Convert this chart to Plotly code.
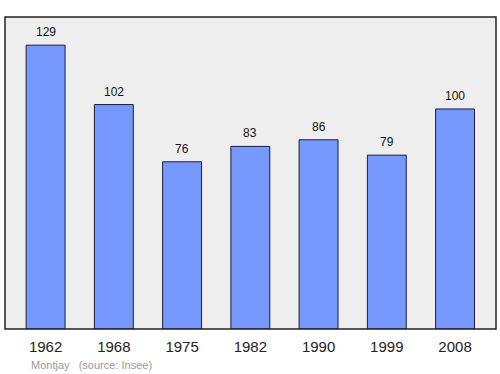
import plotly.graph_objects as go

years = ["1962", "1968", "1975", "1982", "1990", "1999", "2008"]
population = [129, 102, 76, 83, 86, 79, 100]
source_label = "Montjay    (source: Insee)"

fig = go.Figure()
fig.add_trace(go.Bar(
    x=years, y=population, width=0.57,
    marker=dict(color="#7799ff", line=dict(color="#1a1a3a", width=1)),
    hoverinfo="skip",
))
for i, v in enumerate(population):
    fig.add_annotation(x=i, y=v, text=str(v), showarrow=False,
                       yanchor="bottom", yshift=4,
                       font=dict(family="Liberation Sans", size=12, color="#111"))
fig.add_annotation(xref="paper", yref="paper", x=(29-5)/491, y=-(365-329)/312,
                   xanchor="left", yanchor="middle", text=source_label.replace("    ", "&nbsp;&nbsp;&nbsp;"),
                   showarrow=False, font=dict(family="Liberation Sans", size=11, color="#999"))
fig.add_shape(type="rect", xref="paper", yref="paper", x0=0, y0=0, x1=1, y1=1,
              line=dict(color="#222", width=1.5), layer="above")
fig.update_layout(
    width=500, height=374,
    margin=dict(l=5, r=4, t=17, b=45),
    paper_bgcolor="white", plot_bgcolor="#eeeeee",
    showlegend=False,
    xaxis=dict(range=[-0.595, 6.6], showgrid=False, zeroline=False, showline=False,
               ticks="outside", ticklen=4, tickcolor="rgba(0,0,0,0)",
               tickfont=dict(family="Liberation Sans", size=15, color="#222")),
    yaxis=dict(range=[0, 141.8], showgrid=False, zeroline=False, showticklabels=False,
               showline=False),
)
fig.write_html("out.html")
